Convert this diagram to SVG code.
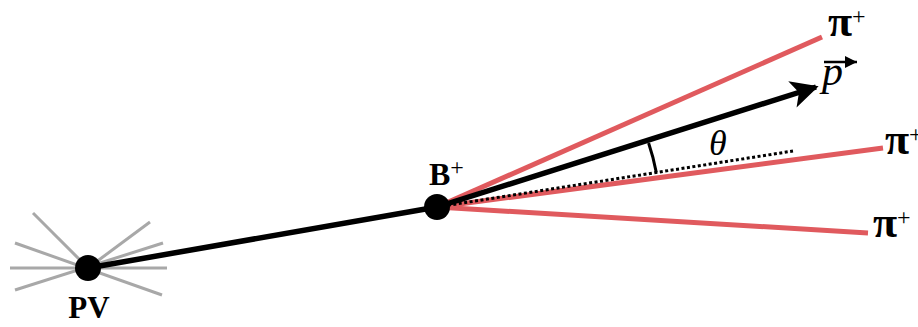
<svg xmlns="http://www.w3.org/2000/svg" width="918" height="327" viewBox="0 0 918 327">
<style>
.lbl{font-family:"Liberation Serif","Times New Roman",serif;font-weight:bold;fill:#000}
.sup{font-size:24px;font-weight:normal}
.spoke{stroke:#a8a8a8;stroke-width:3;stroke-linecap:butt}
.pion{stroke:#e05a5e;stroke-width:5;stroke-linecap:butt}
</style>
<defs>
<marker id="head" viewBox="0 0 10 10" refX="9" refY="5" markerWidth="5.5" markerHeight="5" orient="auto" markerUnits="strokeWidth">
<path d="M0,0 L10,5 L0,10 L2.5,5 Z" fill="#000"/>
</marker>
<marker id="vhead" viewBox="0 0 10 10" refX="10" refY="5" markerWidth="5" markerHeight="5" orient="auto" markerUnits="strokeWidth">
<path d="M0,0 L10,5 L0,10 Z" fill="#000"/>
</marker>
</defs>
<g id="connectors">
<g id="spokes">
<line class="spoke" x1="15" y1="243" x2="162" y2="295"/>
<line class="spoke" x1="15" y1="290" x2="163" y2="243"/>
<line class="spoke" x1="10" y1="268" x2="167" y2="268"/>
<line class="spoke" x1="33" y1="213" x2="88" y2="268"/>
<line class="spoke" x1="150" y1="222" x2="88" y2="268"/>
</g>
<line x1="88" y1="268" x2="437" y2="207" stroke="#000" stroke-width="5.5"/>
<line class="pion" x1="437" y1="207" x2="822" y2="37"/>
<line class="pion" x1="437" y1="207" x2="883" y2="148"/>
<line class="pion" x1="437" y1="207" x2="868" y2="233"/>
<line x1="437" y1="207" x2="793" y2="151" stroke="#000" stroke-width="3" stroke-dasharray="3,2.5"/>
<line x1="437" y1="207" x2="816" y2="87" stroke="#000" stroke-width="5.5" marker-end="url(#head)"/>
<path d="M 648.6,143.1 A 222 222 0 0 1 656.3,172.5" fill="none" stroke="#000" stroke-width="3"/>
</g>
<g id="PV">
<circle cx="88" cy="268" r="13" fill="#000"/>
<text class="lbl" x="89" y="318" font-size="31" text-anchor="middle">PV</text>
</g>
<g id="Bplus">
<circle cx="437" cy="207" r="13" fill="#000"/>
<text class="lbl" x="429" y="185" font-size="32">B<tspan class="sup" dy="-10">+</tspan></text>
</g>
<g id="pi1">
<text class="lbl" x="828" y="36" font-size="44">π<tspan class="sup" dy="-12">+</tspan></text>
</g>
<g id="pi2">
<text class="lbl" x="885" y="154" font-size="44">π<tspan class="sup" dy="-12">+</tspan></text>
</g>
<g id="pi3">
<text class="lbl" x="873" y="237" font-size="44">π<tspan class="sup" dy="-12">+</tspan></text>
</g>
<g id="p">
<text x="822" y="85" font-family="Liberation Serif, serif" font-style="italic" font-size="42" fill="#000">p</text>
<line x1="824" y1="62" x2="857" y2="62" stroke="#000" stroke-width="2.5" marker-end="url(#vhead)"/>
</g>
<g id="theta">
<text x="709" y="155" font-family="Liberation Serif, serif" font-style="italic" font-size="36" fill="#000">θ</text>
</g>
</svg>
